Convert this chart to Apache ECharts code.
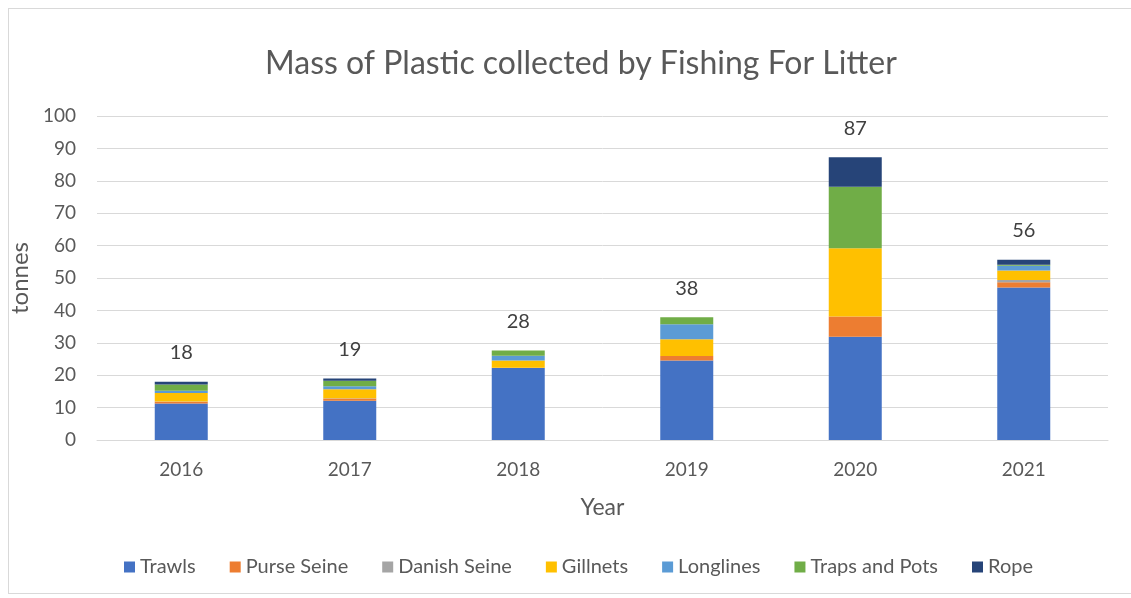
<!DOCTYPE html>
<html><head><meta charset="utf-8">
<script src="https://cdn.jsdelivr.net/npm/echarts@6/dist/echarts.min.js"></script>
<style>
html,body{margin:0;padding:0;background:#fff;}
#frame{position:absolute;left:8px;top:8px;width:1140px;height:586px;border:1px solid #d9d9d9;box-sizing:border-box;}
#chart{position:absolute;left:0;top:0;width:1131px;height:598px;}
</style>
</head><body>
<div id="frame"></div>
<div id="chart"></div>
<script>
const years = ['2016','2017','2018','2019','2020','2021'];
const trawls      = [11.3, 12.1, 22.2, 24.5, 31.9, 47.1];
const purseSeine  = [0.5, 0.7, 0.1, 1.4, 6.2, 1.6];
const danishSeine = [0.1, 0.1, 0, 0, 0, 0.7];
const gillnets    = [2.6, 2.8, 2.2, 5.2, 21.1, 2.9];
const longlines   = [0.7, 0.9, 1.5, 4.6, 0, 1.5];
const trapsPots   = [1.9, 1.7, 1.6, 2.2, 19.0, 0.3];
const rope        = [0.9, 0.7, 0, 0, 9.1, 1.5];
const totalLabels = [18, 19, 28, 38, 87, 56];
const yTicks = [0, 10, 20, 30, 40, 50, 60, 70, 80, 90, 100];

const seriesDefs = [
  ['Trawls', trawls, '#4472C4'],
  ['Purse Seine', purseSeine, '#ED7D31'],
  ['Danish Seine', danishSeine, '#A5A5A5'],
  ['Gillnets', gillnets, '#FFC000'],
  ['Longlines', longlines, '#5B9BD5'],
  ['Traps and Pots', trapsPots, '#70AD47'],
  ['Rope', rope, '#264478']
];
const font = 'Lato, "Open Sans", sans-serif';
const series = seriesDefs.map(([name, data, color], i) => {
  const s = {
    name, type: 'bar', stack: 'total', data, barWidth: 53,
    itemStyle: { color },
    emphasis: { disabled: true }
  };
  if (i === seriesDefs.length - 1) {
    s.label = {
      show: true, position: 'top', distance: 19,
      formatter: p => String(totalLabels[p.dataIndex]),
      color: '#404040', fontSize: 20, fontFamily: font
    };
  }
  return s;
});

const chart = echarts.init(document.getElementById('chart'), null, { renderer: 'canvas' });
chart.setOption({
  animation: false,
  backgroundColor: 'transparent',
  title: {
    text: 'Mass of Plastic collected by Fishing For Litter',
    left: 260, top: 43,
    textStyle: { color: '#595959', fontSize: 32, fontWeight: 'normal', fontFamily: font }
  },
  grid: { left: 97, right: 23, top: 116, bottom: 158 },
  legend: {
    bottom: 16, left: 119, itemWidth: 11, itemHeight: 11, itemGap: 34,
    icon: 'rect',
    textStyle: { color: '#595959', fontSize: 20, fontFamily: font }
  },
  xAxis: {
    type: 'category', data: years,
    name: 'Year', nameLocation: 'middle', nameGap: 56,
    nameTextStyle: { color: '#595959', fontSize: 23, fontFamily: font },
    axisLine: { lineStyle: { color: '#d9d9d9' } },
    axisTick: { show: false },
    axisLabel: { color: '#595959', fontSize: 19, fontFamily: font, margin: 20 }
  },
  yAxis: {
    type: 'value', min: 0, max: 100, interval: 10,
    name: 'tonnes', nameLocation: 'middle', nameGap: 58,
    nameTextStyle: { color: '#595959', fontSize: 24, fontFamily: font },
    axisLine: { show: false }, axisTick: { show: false },
    axisLabel: { color: '#595959', fontSize: 19, fontFamily: font, margin: 21,
      formatter: v => yTicks.includes(v) ? String(v) : '' },
    splitLine: { lineStyle: { color: '#d9d9d9' } }
  },
  series
});
</script>
</body></html>
